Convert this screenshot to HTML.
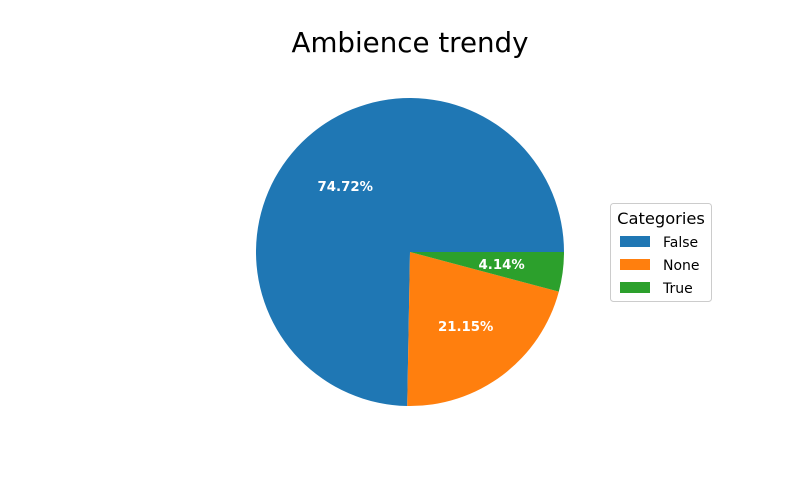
<!DOCTYPE html>
<html><head><meta charset="utf-8"><style>
body{margin:0;background:#fff;}
svg{display:block;font-family:"Liberation Sans","DejaVu Sans",sans-serif;}
</style></head><body>
<svg id="chart" width="800" height="500">
<rect width="800" height="500" fill="#fff"/>
<text x="410" y="52" text-anchor="middle" font-size="27.7" font-family="DejaVu Sans, sans-serif">Ambience trendy</text>
<g id="slices"></g>
<g>
<rect x="610.5" y="203.5" width="101" height="98" rx="3" fill="#fff" stroke="#ccc"/>
<text x="661" y="224" text-anchor="middle" font-size="16.3" font-family="DejaVu Sans, sans-serif">Categories</text>
<g id="legend-items"></g>
</g>
</svg>
<script>
const categories = ["False","None","True"];
const values = [74.72,21.15,4.14];
const labels = ["74.72%","21.15%","4.14%"];
const colors = ["#1f77b4","#ff7f0e","#2ca02c"];
const cx=410, cy=252, r=154;
const ns="http://www.w3.org/2000/svg";
const g=document.getElementById('slices');
const total=values.reduce((a,b)=>a+b,0);
let a0=0;
values.forEach((v,i)=>{
  const a1=a0+v/total*2*Math.PI;
  const x0=cx+r*Math.cos(a0), y0=cy-r*Math.sin(a0);
  const x1=cx+r*Math.cos(a1), y1=cy-r*Math.sin(a1);
  const large=(a1-a0)>Math.PI?1:0;
  const p=document.createElementNS(ns,'path');
  p.setAttribute('d',`M${cx},${cy} L${x0},${y0} A${r},${r} 0 ${large} 0 ${x1},${y1} Z`);
  p.setAttribute('fill',colors[i]);
  
  
  g.appendChild(p);
  const am=(a0+a1)/2;
  const t=document.createElementNS(ns,'text');
  t.setAttribute('x',cx+0.6*r*Math.cos(am));
  t.setAttribute('y',cy-0.6*r*Math.sin(am)+5);
  t.setAttribute('text-anchor','middle');
  t.setAttribute('font-size','13.3');
  t.setAttribute('font-weight','bold');
  t.setAttribute('fill','#fff');
  t.setAttribute('font-family','DejaVu Sans, sans-serif');
  t.textContent=labels[i];
  
  
  g.appendChild(t);
  a0=a1;
});
const lg=document.getElementById('legend-items');
categories.forEach((c,i)=>{
  const y=236+i*23;
  const rc=document.createElementNS(ns,'rect');
  rc.setAttribute('x',620);rc.setAttribute('y',y);rc.setAttribute('width',30);rc.setAttribute('height',11);
  rc.setAttribute('fill',colors[i]);
  
  
  lg.appendChild(rc);
  const t=document.createElementNS(ns,'text');
  t.setAttribute('x',663);t.setAttribute('y',y+11);
  t.setAttribute('font-size','14');
  t.setAttribute('font-family','DejaVu Sans, sans-serif');
  t.textContent=c;
  
  
  lg.appendChild(t);
});
</script>
</body></html>
